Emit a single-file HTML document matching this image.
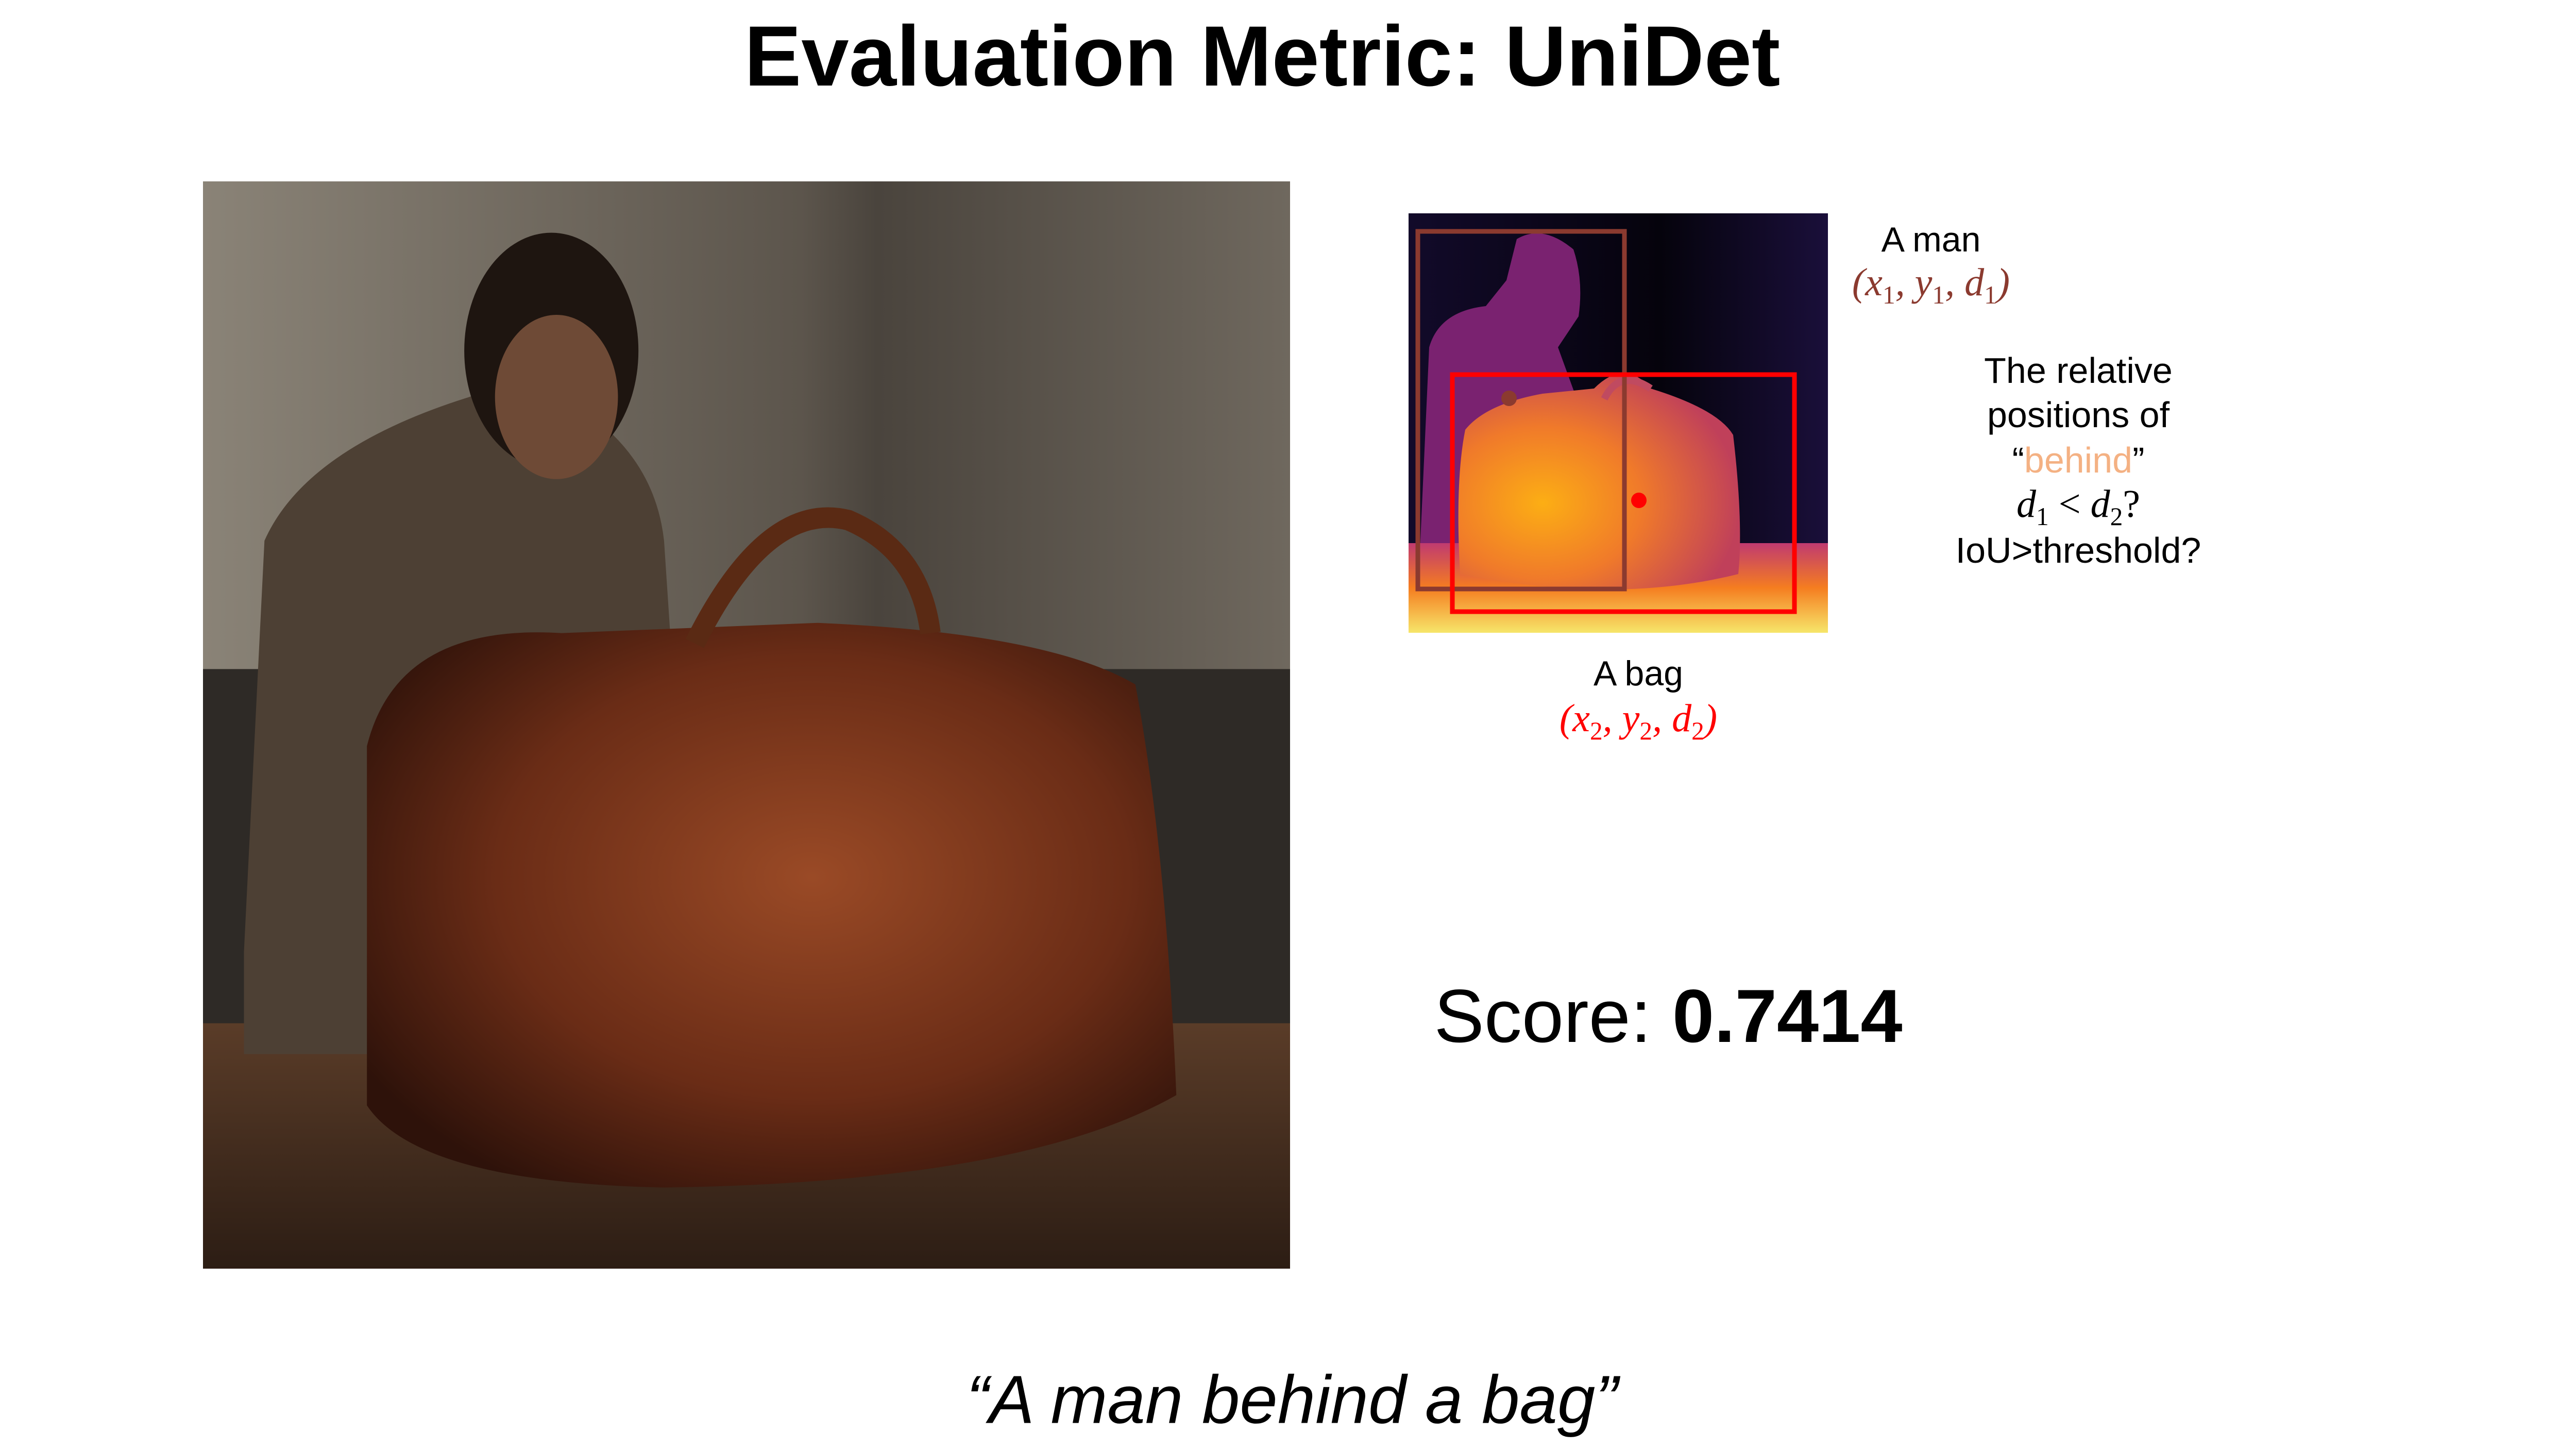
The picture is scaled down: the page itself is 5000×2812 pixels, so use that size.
<!DOCTYPE html>
<html><head><meta charset="utf-8"><style>
html,body{margin:0;padding:0;background:#fff}
#root{position:relative;width:5000px;height:2812px;overflow:hidden;background:#fff;font-family:"Liberation Sans",sans-serif}
.t{position:absolute;white-space:nowrap;transform:translate(-50%,-50%);color:#000}
.m{font-family:"Liberation Serif",serif;font-style:italic}
</style></head><body>
<div id="root">
<div class="t" style="left:2450px;top:110px;font-size:166px;font-weight:bold">Evaluation Metric: UniDet</div>

<svg style="position:absolute;left:394px;top:352px" width="2110" height="2110" viewBox="0 0 2122 2118" preserveAspectRatio="none">
<defs>
<linearGradient id="wall" x1="0" y1="0" x2="1" y2="0"><stop offset="0" stop-color="#8a8377"/><stop offset="0.55" stop-color="#5c554c"/><stop offset="0.62" stop-color="#4a443d"/><stop offset="1" stop-color="#6f685e"/></linearGradient>
<linearGradient id="table" x1="0" y1="0" x2="0" y2="1"><stop offset="0" stop-color="#5a3c28"/><stop offset="1" stop-color="#2c1d14"/></linearGradient>
<radialGradient id="bag" cx="0.55" cy="0.45" r="0.65"><stop offset="0" stop-color="#9a4a26"/><stop offset="0.6" stop-color="#6a2c16"/><stop offset="1" stop-color="#2e120a"/></radialGradient>
</defs>
<rect width="2122" height="2118" fill="url(#wall)"/>
<rect y="950" width="2122" height="700" fill="#2e2a26"/>
<rect y="1640" width="2122" height="478" fill="url(#table)"/>
<path d="M80 1500 L120 700 Q200 520 520 420 Q620 380 700 420 Q880 520 900 700 L920 1000 L560 1700 L80 1700Z" fill="#4d4034"/>
<ellipse cx="680" cy="330" rx="170" ry="230" fill="#1e1510"/>
<ellipse cx="690" cy="420" rx="120" ry="160" fill="#6e4a36"/>
<path d="M320 1100 Q380 860 700 880 L1200 860 Q1650 880 1820 980 Q1880 1300 1900 1780 Q1600 1950 900 1960 Q420 1950 320 1800Z" fill="url(#bag)"/>
<path d="M960 900 Q1100 620 1260 660 Q1400 720 1420 880" fill="none" stroke="#5a2a14" stroke-width="40"/>
</svg>

<svg style="position:absolute;left:2734px;top:414px" width="814" height="814" viewBox="0 0 814 814">
<defs>
<linearGradient id="bg" x1="0" y1="0" x2="1" y2="0"><stop offset="0" stop-color="#120a2a"/><stop offset="0.6" stop-color="#05030c"/><stop offset="1" stop-color="#1a0f3a"/></linearGradient>
<linearGradient id="floor" x1="0" y1="0" x2="0" y2="1"><stop offset="0" stop-color="#c03a70"/><stop offset="0.5" stop-color="#f57d20"/><stop offset="1" stop-color="#f6e66a"/></linearGradient>
<radialGradient id="bagd" cx="0.3" cy="0.6" r="0.7"><stop offset="0" stop-color="#fcae14"/><stop offset="0.5" stop-color="#f07a2a"/><stop offset="1" stop-color="#c0405a"/></radialGradient>
</defs>
<rect width="814" height="814" fill="url(#bg)"/>
<path d="M20 700 L40 260 Q60 190 150 180 L190 130 L210 50 Q260 20 320 70 Q340 130 330 200 L290 260 L330 370 L340 700Z" fill="#7a2270"/>
<rect y="640" width="814" height="174" fill="url(#floor)"/>
<path d="M100 700 Q90 520 110 420 Q150 370 260 350 L360 340 Q420 280 470 340 Q600 380 630 430 Q650 600 640 700 Q400 760 100 700Z" fill="url(#bagd)"/>
<path d="M380 360 Q410 300 470 340" fill="none" stroke="#c04a60" stroke-width="14"/>
</svg>
<svg style="position:absolute;left:0;top:0" width="5000" height="2812">
<rect x="2752" y="449" width="401" height="694" fill="none" stroke="#8b3a2f" stroke-width="9"/>
<rect x="2819" y="727" width="664" height="460" fill="none" stroke="#ff0000" stroke-width="9"/>
<circle cx="2929" cy="773" r="15" fill="#8b3a2f"/>
<circle cx="3181" cy="971" r="15" fill="#ff0000"/>
</svg>

<div class="t" style="left:3748px;top:465px;font-size:68px">A man</div>
<div class="t m" style="left:3748px;top:553px;font-size:76px;color:#8b3a2f">(x<sub style="font-style:normal;font-size:0.65em">1</sub>, y<sub style="font-style:normal;font-size:0.65em">1</sub>, d<sub style="font-style:normal;font-size:0.65em">1</sub>)</div>
<div class="t" style="left:4034px;top:719px;font-size:70px">The relative</div>
<div class="t" style="left:4034px;top:805px;font-size:70px">positions of</div>
<div class="t" style="left:4034px;top:893px;font-size:70px">“<span style="color:#f4b183">behind</span>”</div>
<div class="t m" style="left:4034px;top:983px;font-size:76px">d<sub style="font-style:normal;font-size:0.65em">1</sub> <span style="font-style:normal">&lt;</span> d<sub style="font-style:normal;font-size:0.65em">2</sub><span style="font-style:normal">?</span></div>
<div class="t" style="left:4034px;top:1068px;font-size:70px">IoU&gt;threshold?</div>
<div class="t" style="left:3180px;top:1307px;font-size:68px">A bag</div>
<div class="t m" style="left:3180px;top:1399px;font-size:76px;color:#ff0000">(x<sub style="font-style:normal;font-size:0.65em">2</sub>, y<sub style="font-style:normal;font-size:0.65em">2</sub>, d<sub style="font-style:normal;font-size:0.65em">2</sub>)</div>
<div class="t" style="left:3238px;top:1972px;font-size:146px">Score: <b>0.7414</b></div>
<div class="t" style="left:2508px;top:2716px;font-size:132px;font-style:italic">“A man behind a bag”</div>
</div>
</body></html>
